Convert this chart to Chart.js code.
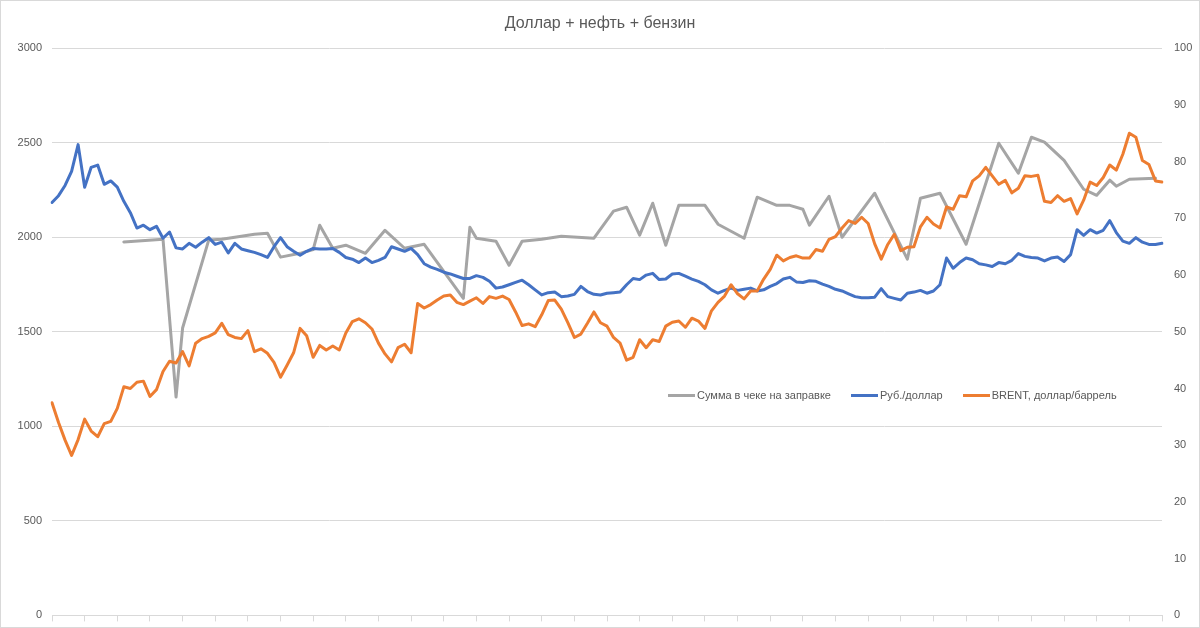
<!DOCTYPE html>
<html>
<head>
<meta charset="utf-8">
<title>Доллар + нефть + бензин</title>
<script src="https://cdn.jsdelivr.net/npm/chart.js@4"></script>
<style>
html,body{margin:0;padding:0;background:#fff;overflow:hidden}
#wrap{position:relative;width:1200px;height:628px;overflow:hidden}
#frame{position:absolute;left:0;top:0;width:1198px;height:626px;border:1px solid #d9d9d9;pointer-events:none}
#legend{position:absolute;left:668px;top:389px;display:flex;align-items:center;font:11px "Liberation Sans",Arial,sans-serif;color:#595959;white-space:nowrap}
.item{display:flex;align-items:center;margin-right:20px}
.item i{display:inline-block;width:27px;height:3px;margin-right:2px}
</style>
</head>
<body>
<div id="wrap">
    <canvas id="chart" width="1200" height="634"></canvas>
    <div id="legend"></div>
    <div id="frame"></div>
</div>
<script>
// fuel receipt total, rub (left axis) - sparse, only the days a receipt exists
const fuelCheck=[
    null,null,null,null,null,null,null,null,null,null,
    null,1975,null,null,null,null,null,1990,null,1155,
    1520,null,null,null,1985,null,1990,null,null,null,
    null,2016,null,2021,null,1895,null,null,1915,null,
    1935,2064,null,1942,null,1958,null,null,1915,null,
    null,2037,null,null,1942,null,null,1963,null,null,
    null,null,null,1677,2053,1995,null,null,1979,null,
    1852,null,1979,null,null,1989,null,null,2005,null,
    null,null,null,1995,null,null,2138,null,2159,null,
    2011,null,2180,null,1958,null,2169,null,null,null,
    2169,null,2069,null,null,null,1995,null,2212,null,
    null,2169,null,2169,null,2148,2064,null,null,2217,
    null,2000,null,null,null,null,2233,null,null,null,
    null,1884,null,2206,null,null,2233,null,null,null,
    1963,null,null,null,null,2497,null,null,2339,null,
    2529,null,2503,null,null,2407,null,null,2254,null,
    2222,null,2302,2270,null,2307,null,null,null,2312,
    null
];

// rub per usd (right axis)
const rubUsd=[
    72.8,74.0,75.8,78.3,83.0,75.5,79.0,79.4,76.0,76.6,
    75.5,73.0,71.0,68.3,68.8,68.0,68.6,66.5,67.6,64.8,
    64.6,65.6,64.9,65.8,66.6,65.4,65.8,63.9,65.6,64.6,
    64.3,64.0,63.6,63.1,65.0,66.6,65.0,64.2,63.5,64.2,
    64.7,64.6,64.6,64.7,64.0,63.1,62.8,62.2,63.0,62.2,
    62.6,63.1,65.0,64.6,64.2,64.7,63.6,62.0,61.4,61.0,
    60.5,60.2,59.8,59.4,59.4,59.9,59.6,58.9,57.7,57.9,
    58.3,58.7,59.1,58.3,57.4,56.5,56.9,57.0,56.2,56.3,
    56.6,58.0,57.1,56.6,56.5,56.8,56.9,57.0,58.3,59.4,
    59.2,60.0,60.3,59.2,59.3,60.2,60.3,59.8,59.3,58.9,
    58.3,57.4,56.8,57.3,57.7,57.3,57.5,57.7,57.2,57.4,
    58.0,58.5,59.3,59.6,58.8,58.7,59.0,58.9,58.4,58.0,
    57.5,57.2,56.7,56.2,56.0,56.0,56.1,57.6,56.2,55.9,
    55.6,56.8,57.0,57.3,56.8,57.2,58.3,63.0,61.2,62.2,
    63.0,62.7,62.0,61.8,61.5,62.2,62.0,62.6,63.8,63.3,
    63.1,63.0,62.5,63.0,63.2,62.4,63.6,68.0,67.0,68.0,
    67.4,67.9,69.6,67.5,66.0,65.6,66.6,65.8,65.4,65.4,
    65.6
];

// brent, usd per barrel (right axis)
const brent=[
    37.5,34.0,30.9,28.2,31.0,34.6,32.5,31.5,33.8,34.2,
    36.5,40.3,40.0,41.1,41.3,38.6,39.8,43.0,44.8,44.5,
    46.5,44.0,48.0,48.8,49.2,49.8,51.5,49.5,49.0,48.8,
    50.2,46.5,47.0,46.2,44.6,42.0,44.1,46.3,50.6,49.3,
    45.5,47.6,46.8,47.5,46.8,49.8,51.8,52.3,51.6,50.5,
    48.0,46.1,44.7,47.2,47.8,46.3,55.0,54.2,54.8,55.6,
    56.3,56.5,55.2,54.8,55.4,56.0,55.0,56.2,55.9,56.3,
    55.7,53.5,51.1,51.4,50.9,53.0,55.5,55.6,54.0,51.6,
    49.0,49.6,51.5,53.5,51.6,51.0,49.0,48.0,45.0,45.5,
    48.6,47.2,48.6,48.3,51.0,51.7,51.9,50.8,52.4,51.9,
    50.6,53.7,55.2,56.3,58.3,56.7,55.8,57.2,57.2,59.3,
    61.0,63.5,62.5,63.1,63.4,63.0,63.0,64.5,64.2,66.3,
    66.8,68.3,69.6,69.1,70.2,69.1,65.5,62.8,65.4,67.2,
    64.3,64.9,65.0,68.5,70.2,69.0,68.3,72.0,71.6,74.0,
    73.8,76.6,77.5,79.0,77.5,76.0,76.7,74.5,75.3,77.5,
    77.4,77.6,73.0,72.8,74.0,73.0,73.5,70.8,73.2,76.4,
    75.8,77.2,79.4,78.5,81.3,85.0,84.3,80.2,79.5,76.6,
    76.4
];

const seriesNames=["Сумма в чеке на заправке","Руб./доллар","BRENT, доллар/баррель"];
const seriesColors=["#a5a5a5","#4472c4","#ed7d31"];
const leftTicks=[0,500,1000,1500,2000,2500,3000];
const rightTicks=[0,10,20,30,40,50,60,70,80,90,100];

// date labels are cut off in the original, so just day numbers
const days=rubUsd.map((v,i)=>String(i+1));

const FONT="'Liberation Sans', Arial, sans-serif";
const GRID="#d9d9d9";
const TEXT="#595959";

const chart=new Chart(document.getElementById("chart"),{
    type:"line",
    data:{
        labels:days,
        datasets:[
            {label:seriesNames[0],data:fuelCheck,yAxisID:"y",borderColor:seriesColors[0],backgroundColor:seriesColors[0],spanGaps:true,order:2},
            {label:seriesNames[1],data:rubUsd,yAxisID:"y1",borderColor:seriesColors[1],backgroundColor:seriesColors[1],order:1},
            {label:seriesNames[2],data:brent,yAxisID:"y1",borderColor:seriesColors[2],backgroundColor:seriesColors[2],order:0}
        ]
    },
    options:{
        responsive:false,
        animation:false,
        devicePixelRatio:1,
        elements:{
            line:{borderWidth:3,tension:0,borderJoinStyle:"round",borderCapStyle:"round"},
            point:{radius:0}
        },
        layout:{padding:{top:0,left:0,right:0,bottom:0}},
        plugins:{
            legend:{display:false},
            tooltip:{enabled:false},
            title:{
                display:true,
                text:"Доллар + нефть + бензин",
                color:TEXT,
                font:{family:FONT,size:16,weight:"normal"},
                padding:{top:14,bottom:15}
            }
        },
        scales:{
            x:{
                ticks:{display:false,autoSkip:false},
                grid:{
                    drawOnChartArea:false,
                    drawTicks:true,
                    tickLength:6,
                    tickColor:ctx=>ctx.index%5===0?GRID:"rgba(0,0,0,0)"
                },
                border:{display:true,color:GRID},
                afterFit:s=>{s.height=7;}
            },
            y:{
                position:"left",
                min:0,max:3000,
                afterBuildTicks:s=>{s.ticks=leftTicks.map(v=>({value:v}));},
                ticks:{color:TEXT,font:{family:FONT,size:11},padding:10,callback:v=>String(v)},
                grid:{color:GRID,drawTicks:false},
                border:{display:false},
                afterFit:s=>{s.width=52;}
            },
            y1:{
                position:"right",
                min:0,max:100,
                afterBuildTicks:s=>{s.ticks=rightTicks.map(v=>({value:v}));},
                ticks:{color:TEXT,font:{family:FONT,size:11},padding:12,callback:v=>String(v)},
                grid:{display:false,drawTicks:false},
                border:{display:false},
                afterFit:s=>{s.width=38;}
            }
        }
    }
});

// legend sits inside the plot, like in the excel original
const legend=document.getElementById("legend");
seriesNames.forEach((name,k)=>{
    let item=document.createElement("span");
    item.className="item";
    item.innerHTML=`<i style="background:${seriesColors[k]}"></i>${name}`;
    legend.appendChild(item);
});
</script>
</body>
</html>
